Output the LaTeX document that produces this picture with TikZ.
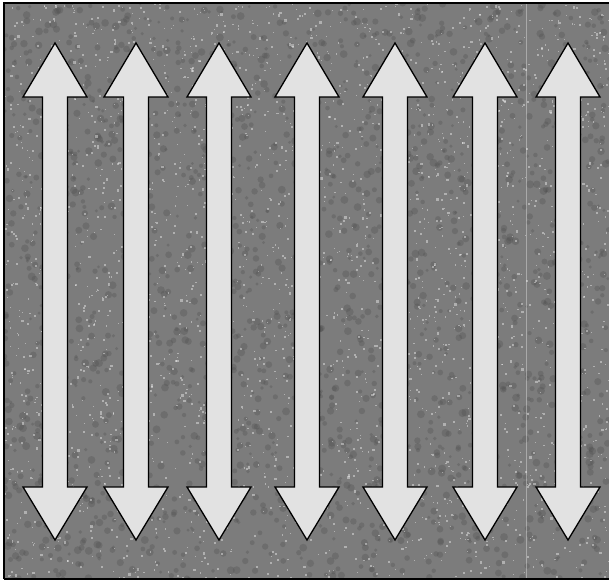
\documentclass[tikz,border=0pt]{standalone}
\usepackage{tikz}
\definecolor{slab}{HTML}{7C7C7C}
\definecolor{arrowfill}{HTML}{E2E2E2}
\begin{document}
\begin{tikzpicture}[x=1pt, y=1pt,
    dblarrow/.style={fill=arrowfill, draw=black, line width=1.3pt, line join=miter},
    speckdark/.style={fill=black!70, opacity=0.3},
    specklight/.style={fill=white, opacity=0.4}]
  \useasboundingbox (0,0) rectangle (609,584);
  % textured ground
  \fill[slab] (4,5) rectangle (609,581);
  \begin{scope}
    \clip (4,5) rectangle (609,581);
    \pgfmathsetseed{42}
    \foreach \i in {1,...,2000} {
      \pgfmathsetmacro\px{4+605*rnd}
      \pgfmathsetmacro\py{5+576*rnd}
      \pgfmathsetmacro\rr{1.5+2.5*rnd}
      \fill[speckdark] (\px,\py) circle (\rr);
    }
    \foreach \i in {1,...,3000} {
      \pgfmathsetmacro\px{4+605*rnd}
      \pgfmathsetmacro\py{5+576*rnd}
      \pgfmathsetmacro\rr{0.8+1.6*rnd}
      \fill[specklight] (\px,\py) rectangle ++(\rr,\rr);
    }
    \draw[white, opacity=0.35, line width=0.5pt] (526,5) -- (526,581);
  \end{scope}
  \draw[black, line width=1.2pt] (4,5) -- (4,581) -- (612,581);
  \draw[black, line width=1.2pt] (4,5) -- (612,5);
  % double arrows
  \foreach \cx in {55,136,219,307,395,485,568} {
    \draw[dblarrow] (\cx,541) -- (\cx+32,487) -- (\cx+12.5,487) -- (\cx+12.5,97)
      -- (\cx+32,97) -- (\cx,44) -- (\cx-32,97) -- (\cx-12.5,97)
      -- (\cx-12.5,487) -- (\cx-32,487) -- cycle;
  }
\end{tikzpicture}
\end{document}
